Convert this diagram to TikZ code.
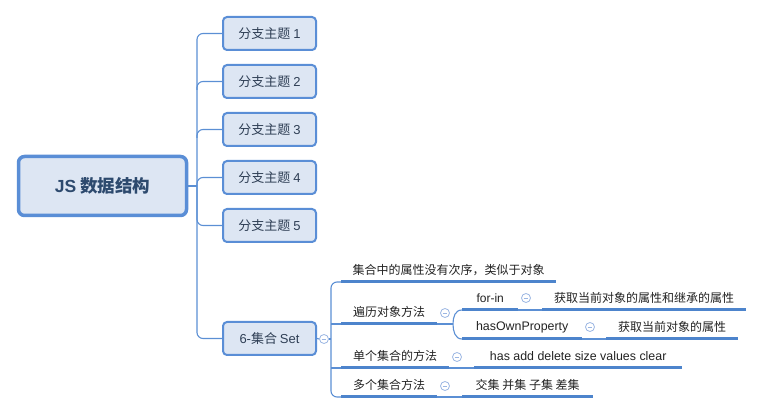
\documentclass[tikz,border=0pt]{standalone}
\usepackage{fontspec}
\setmainfont{Noto Sans CJK SC}
\newfontfamily\lat{Liberation Sans}
\begin{document}
\begin{tikzpicture}[x=1pt,y=-1pt,
  rootbox/.style={draw=cBord, line width=3.5pt, fill=cFill, rounded corners=6pt,
    minimum width=168pt, minimum height=59pt, inner sep=0pt,
    font=\fontsize{17.5}{20}\selectfont\bfseries, text=cRootTxt},
  brbox/.style={draw=cBord, line width=2pt, fill=cFill, rounded corners=4pt,
    minimum width=93pt, minimum height=33pt, inner sep=0pt,
    font=\fontsize{13}{16}\selectfont, text=cBrTxt},
  leaf/.style={anchor=south west, minimum height=24pt, inner sep=0pt,
    font=\fontsize{12}{14}\selectfont, text=cLeafTxt},
  uline/.style={draw=cUline, line width=3pt},
  conn/.style={draw=cConn, line width=1.1pt},
  tog/.style={circle, draw=cTog, line width=0.8pt, fill=white, minimum size=9pt, inner sep=0pt,
    path picture={\draw[cTog, line width=0.8pt] ([xshift=-2.4pt]path picture bounding box.center) -- ([xshift=2.4pt]path picture bounding box.center);}}
]
\definecolor{cBord}{HTML}{5A8ED6}
\definecolor{cFill}{HTML}{DDE6F3}
\definecolor{cRootTxt}{HTML}{2D4A6E}
\definecolor{cBrTxt}{HTML}{2F3F55}
\definecolor{cLeafTxt}{HTML}{222222}
\definecolor{cUline}{HTML}{4D84CC}
\definecolor{cConn}{HTML}{5B8FD4}
\definecolor{cTog}{HTML}{9BB6E3}
\useasboundingbox (0,0) rectangle (764,414);

% root
\node[rootbox] (root) at (102.5,186) {{\lat JS} 数据结构};

% branches
\node[brbox] (b1) at (269.5,33.5) {分支主题 {\lat 1}};
\node[brbox] (b2) at (269.5,81.5) {分支主题 {\lat 2}};
\node[brbox] (b3) at (269.5,129.5) {分支主题 {\lat 3}};
\node[brbox] (b4) at (269.5,177.5) {分支主题 {\lat 4}};
\node[brbox] (b5) at (269.5,225.5) {分支主题 {\lat 5}};
\node[brbox] (b6) at (269.5,338.5) {{\lat 6-}集合 {\lat Set}};

\coordinate (vtop) at (197,33.5);
\coordinate (vbot) at (197,338.5);
\draw[conn] (root.east) -- (197,186);
\draw[conn, rounded corners=6pt] (b1.west) -- (vtop) -- (vbot) -- (b6.west);
\draw[conn, rounded corners=6pt] (197,90) -- (197,81.5) -- (b2.west);
\draw[conn, rounded corners=6pt] (197,138) -- (197,129.5) -- (b3.west);
\draw[conn, rounded corners=6pt] (197,186) -- (197,177.5) -- (b4.west);
\draw[conn, rounded corners=6pt] (197,186) -- (197,225.5) -- (b5.west);

% Set children
\node[tog] (t6) at (324,339) {};
\draw[conn] (b6.east) -- (t6.west);
\draw[conn] (t6.east) -- (331,339);

\node[leaf, minimum width=215pt] (c1) at (341,282) {集合中的属性没有次序，类似于对象};
\node[leaf, minimum width=96pt] (c2) at (341,324) {遍历对象方法};
\node[leaf, minimum width=108pt] (c3) at (341,368) {单个集合的方法};
\node[leaf, minimum width=96pt] (c4) at (341,397) {多个集合方法};
\foreach \n in {c1,c2,c3,c4} \draw[uline] (\n.south west) -- (\n.south east);

\draw[conn, rounded corners=6pt] (c1.south west) -- (331,282) -- (331,397) -- (c4.south west);
\draw[conn] (331,324) -- (c2.south west);
\draw[conn] (331,368) -- (c3.south west);

% c2 sub-branches
\node[tog] (t2) at (445,313) {};
\node[leaf, minimum width=56pt] (fi) at (462,310) {\lat for-in};
\node[leaf, minimum width=120pt] (ho) at (462,339) {\lat\fontsize{12.4}{14}\selectfont hasOwnProperty};
\draw[uline] (fi.south west) -- (fi.south east);
\draw[uline] (ho.south west) -- (ho.south east);
\draw[conn] (c2.south east) -- (453,324);
\draw[conn] (fi.south west) .. controls (455,310) and (453,317) .. (453,324)
  .. controls (453,331) and (455,339) .. (ho.south west);

\node[tog] (tfi) at (526,298) {};
\node[leaf, minimum width=204pt] (fil) at (542,310) {获取当前对象的属性和继承的属性};
\draw[uline] (fil.south west) -- (fil.south east);
\draw[conn] (fi.south east) -- (fil.south west);

\node[tog] (tho) at (590,327) {};
\node[leaf, minimum width=132pt] (hol) at (606,339) {获取当前对象的属性};
\draw[uline] (hol.south west) -- (hol.south east);
\draw[conn] (ho.south east) -- (hol.south west);

% c3 leaf
\node[tog] (t3) at (457,357) {};
\node[leaf, minimum width=208pt] (c3l) at (474,368) {\lat\fontsize{12.4}{14}\selectfont has add delete size values clear};
\draw[uline] (c3l.south west) -- (c3l.south east);
\draw[conn] (c3.south east) -- (c3l.south west);

% c4 leaf
\node[tog] (t4) at (445,386) {};
\node[leaf, minimum width=131pt] (c4l) at (462,397) {交集 并集 子集 差集};
\draw[uline] (c4l.south west) -- (c4l.south east);
\draw[conn] (c4.south east) -- (c4l.south west);
\end{tikzpicture}
\end{document}
